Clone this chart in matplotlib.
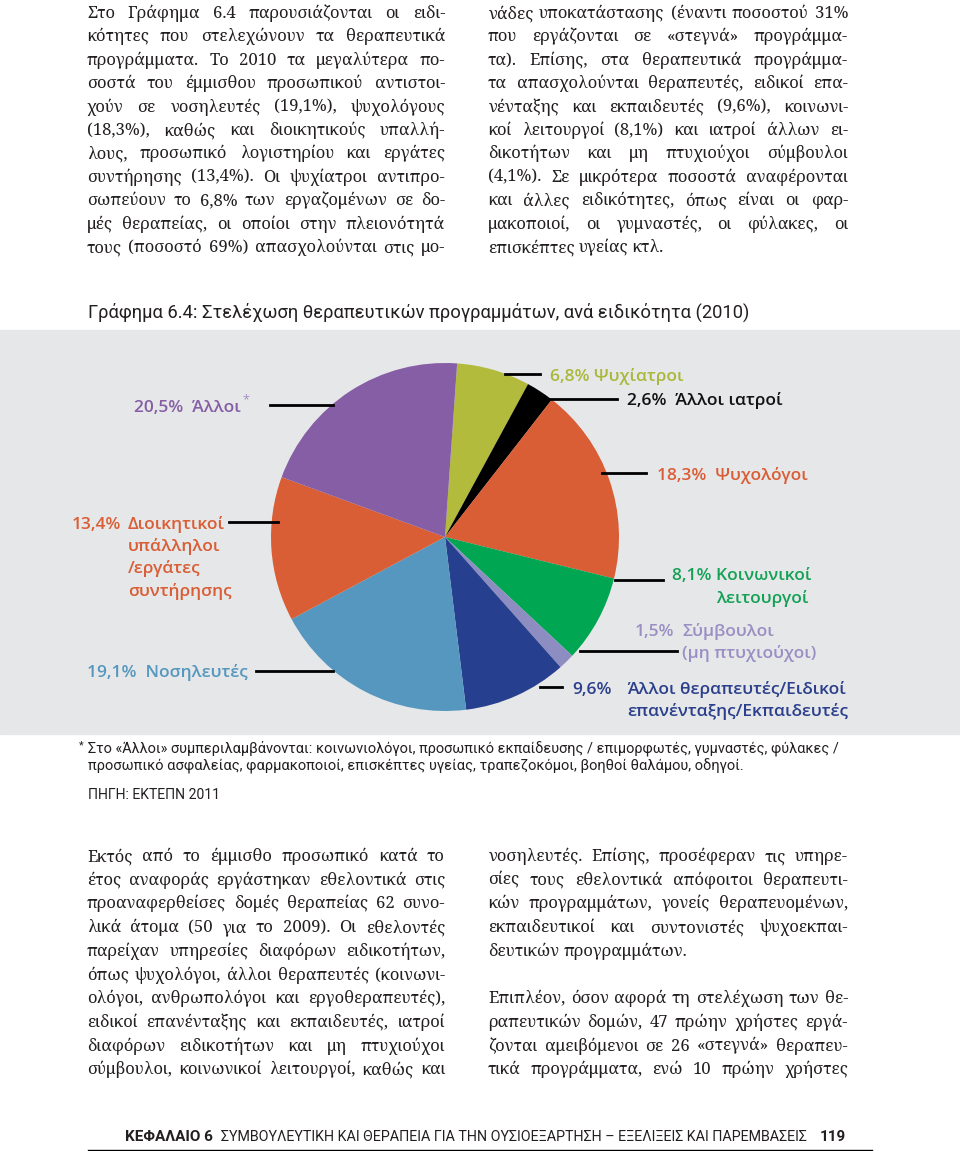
import matplotlib
matplotlib.use('Agg')
import matplotlib.pyplot as plt
from matplotlib import font_manager
from matplotlib.patches import Rectangle
from matplotlib.lines import Line2D

W, H = 960, 1151

# ---- chart data (Γράφημα 6.4) ----
categories = ['Ψυχίατροι', 'Άλλοι ιατροί', 'Ψυχολόγοι', 'Κοινωνικοί λειτουργοί',
              'Σύμβουλοι (μη πτυχιούχοι)',
              'Άλλοι θεραπευτές/Ειδικοί επανένταξης/Εκπαιδευτές',
              'Νοσηλευτές', 'Διοικητικοί υπάλληλοι/εργάτες συντήρησης', 'Άλλοι']
shares = [6.8, 2.6, 18.3, 8.1, 1.5, 9.6, 19.1, 13.4, 20.5]
slice_colors = ['#b2bb3c', '#000000', '#d95d35', '#00a651', '#8d8dc2',
                '#263f8f', '#5597be', '#d95d35', '#855ea6']
text_colors = ['#aab83a', '#111111', '#d95d35', '#14a155', '#9a8ec4',
               '#2b3f8c', '#5597be', '#d95d35', '#855ea6']
label_lines = [['Ψυχίατροι'], ['Άλλοι ιατροί'], ['Ψυχολόγοι'],
               ['Κοινωνικοί', 'λειτουργοί'], ['Σύμβουλοι', '(μη πτυχιούχοι)'],
               ['Άλλοι θεραπευτές/Ειδικοί', 'επανένταξης/Εκπαιδευτές'],
               ['Νοσηλευτές'], ['Διοικητικοί', 'υπάλληλοι', '/εργάτες', 'συντήρησης'],
               ['Άλλοι']]

title = 'Γράφημα 6.4: Στελέχωση θεραπευτικών προγραμμάτων, ανά ειδικότητα (2010)'
note1 = 'Στο «Άλλοι» συμπεριλαμβάνονται: κοινωνιολόγοι, προσωπικό εκπαίδευσης / επιμορφωτές, γυμναστές, φύλακες /'
note2 = 'προσωπικό ασφαλείας, φαρμακοποιοί, επισκέπτες υγείας, τραπεζοκόμοι, βοηθοί θαλάμου, οδηγοί.'
source = 'ΠΗΓΗ: ΕΚΤΕΠΝ 2011'

top_left = [
    'Στο Γράφημα 6.4 παρουσιάζονται οι ειδι-',
    'κότητες που στελεχώνουν τα θεραπευτικά',
    'προγράμματα. Το 2010 τα μεγαλύτερα πο-',
    'σοστά του έμμισθου προσωπικού αντιστοι-',
    'χούν σε νοσηλευτές (19,1%), ψυχολόγους',
    '(18,3%), καθώς και διοικητικούς υπαλλή-',
    'λους, προσωπικό λογιστηρίου και εργάτες',
    'συντήρησης (13,4%). Οι ψυχίατροι αντιπρο-',
    'σωπεύουν το 6,8% των εργαζομένων σε δο-',
    'μές θεραπείας, οι οποίοι στην πλειονότητά',
    'τους (ποσοστό 69%) απασχολούνται στις μο-',
]
top_right = [
    'νάδες υποκατάστασης (έναντι ποσοστού 31%',
    'που εργάζονται σε «στεγνά» προγράμμα-',
    'τα). Επίσης, στα θεραπευτικά προγράμμα-',
    'τα απασχολούνται θεραπευτές, ειδικοί επα-',
    'νένταξης και εκπαιδευτές (9,6%), κοινωνι-',
    'κοί λειτουργοί (8,1%) και ιατροί άλλων ει-',
    'δικοτήτων και μη πτυχιούχοι σύμβουλοι',
    '(4,1%). Σε μικρότερα ποσοστά αναφέρονται',
    'και άλλες ειδικότητες, όπως είναι οι φαρ-',
    'μακοποιοί, οι γυμναστές, οι φύλακες, οι',
    'επισκέπτες υγείας κτλ.',
]
bottom_left = [
    'Εκτός από το έμμισθο προσωπικό κατά το',
    'έτος αναφοράς εργάστηκαν εθελοντικά στις',
    'προαναφερθείσες δομές θεραπείας 62 συνο-',
    'λικά άτομα (50 για το 2009). Οι εθελοντές',
    'παρείχαν υπηρεσίες διαφόρων ειδικοτήτων,',
    'όπως ψυχολόγοι, άλλοι θεραπευτές (κοινωνι-',
    'ολόγοι, ανθρωπολόγοι και εργοθεραπευτές),',
    'ειδικοί επανένταξης και εκπαιδευτές, ιατροί',
    'διαφόρων ειδικοτήτων και μη πτυχιούχοι',
    'σύμβουλοι, κοινωνικοί λειτουργοί, καθώς και',
]
bottom_right = [
    'νοσηλευτές. Επίσης, προσέφεραν τις υπηρε-',
    'σίες τους εθελοντικά απόφοιτοι θεραπευτι-',
    'κών προγραμμάτων, γονείς θεραπευομένων,',
    'εκπαιδευτικοί και συντονιστές ψυχοεκπαι-',
    'δευτικών προγραμμάτων.',
    '',
    'Επιπλέον, όσον αφορά τη στελέχωση των θε-',
    'ραπευτικών δομών, 47 πρώην χρήστες εργά-',
    'ζονται αμειβόμενοι σε 26 «στεγνά» θεραπευ-',
    'τικά προγράμματα, ενώ 10 πρώην χρήστες',
]
paragraph_ends = {'επισκέπτες υγείας κτλ.', 'δευτικών προγραμμάτων.'}

footer_bold = 'ΚΕΦΑΛΑΙΟ 6'
footer_mid = 'ΣΥΜΒΟΥΛΕΥΤΙΚΗ ΚΑΙ ΘΕΡΑΠΕΙΑ ΓΙΑ ΤΗΝ ΟΥΣΙΟΕΞΑΡΤΗΣΗ – ΕΞΕΛΙΞΕΙΣ ΚΑΙ ΠΑΡΕΜΒΑΣΕΙΣ'
footer_page = '119'

# ---- fonts ----
installed = {f.name for f in font_manager.fontManager.ttflist}
narrow = ['Roboto', 'DejaVu Sans'] if 'Roboto' in installed else ['DejaVu Sans']
serif = 'Noto Serif' if 'Noto Serif' in installed else 'DejaVu Serif'
label_font = ['Open Sans', 'DejaVu Sans']
ink = '#231f20'

fig = plt.figure(figsize=(W / 100, H / 100), dpi=100)
renderer = fig.canvas.get_renderer()


def put(x, y, s, **kw):
    kw.setdefault('va', 'baseline')
    return fig.text(x / W, 1 - y / H, s, **kw)


def width_of(t):
    return t.get_window_extent(renderer).width


def fit(x, y, s, target, size, **kw):
    t = put(x, y, s, fontsize=size, **kw)
    t.set_fontsize(size * target / width_of(t))
    return t


def justify(x0, x1, y, line, size, last=False):
    words = line.split()
    objs = [put(x0, y, w, fontsize=size, family=serif, color=ink) for w in words]
    widths = [width_of(o) for o in objs]
    space = size * 100 / 72 * 0.25
    natural = sum(widths) + space * (len(words) - 1)
    if natural > x1 - x0:
        f = (x1 - x0) / natural
        size *= f
        for o in objs:
            o.set_fontsize(size)
        widths = [w * f for w in widths]
        space *= f
    if last or len(words) < 2:
        gap = space
    else:
        gap = (x1 - x0 - sum(widths)) / (len(words) - 1)
    x = x0
    for o, w in zip(objs, widths):
        o.set_x(x / W)
        x += w + gap


def column(lines, x0, x1, y0, step, size=12):
    for i, line in enumerate(lines):
        if line:
            justify(x0, x1, y0 + i * step, line, size, line in paragraph_ends)


# ---- body text ----
column(top_left, 87, 445, 18, 23.4)
column(top_right, 488, 848, 18, 23.4)
column(bottom_left, 87, 445, 861, 23.7)
column(bottom_right, 488, 848, 861, 23.7)

# ---- chart block ----
fit(88, 318, title, 660, 15, family=narrow, color=ink)
fig.add_artist(Rectangle((0, 1 - 734 / H), 1, (734 - 330) / H,
                         transform=fig.transFigure, color='#e6e7e8', zorder=-5))

cx, cy, r = 445, 537, 174
ax = fig.add_axes([(cx - r) / W, 1 - (cy + r) / H, 2 * r / W, 2 * r / H])
ax.pie(shares, colors=slice_colors, startangle=86, counterclock=False,
       wedgeprops=dict(linewidth=0))
ax.set_xlim(-1, 1)
ax.set_ylim(-1, 1)
ax.axis('off')

# leader lines: (y, x_from, x_to) in page pixels, same order as categories
leaders = [(374, 505, 540), (399, 547, 617), (473, 602, 646), (580, 615, 663),
           (651, 580, 677), (687, 540, 562), (671, 256, 333), (522, 229, 278),
           (405, 270, 333)]
for y, xa, xb in leaders:
    fig.add_artist(Line2D([xa / W, xb / W], [1 - y / H] * 2, transform=fig.transFigure,
                          color='black', lw=2.0, zorder=5))

# label anchors: (pct_x, pct_ha, text_x, first_baseline, line_step, gap)
anchors = [(550, 'left', None, 381, 0, ' '),
           (627, 'left', None, 405, 0, '  '),
           (657, 'left', None, 480, 0, '  '),
           (811, 'right', None, 580, 22.5, ' '),
           (635, 'left', 682, 636, 22.5, ''),
           (572, 'left', 627, 694, 22.5, ''),
           (248, 'right', None, 677, 0, '  '),
           (72, 'left', 128, 529, 22.2, ''),
           (241, 'right', None, 412, 0, '  ')]
lab = dict(family=label_font, fontsize=12.5, fontweight='semibold')
for v, lines, col, (px_, pha, tx, y0, step, sep) in zip(shares, label_lines, text_colors, anchors):
    pct = f'{v:.1f}'.replace('.', ',') + '%'
    if tx is None:
        put(px_, y0, pct + sep + lines[0], ha=pha, color=col, **lab)
        for j, s in enumerate(lines[1:], 1):
            put(px_ - 3, y0 + j * step, s, ha='right', color=col, **lab)
    else:
        put(px_, y0, pct, ha=pha, color=col, **lab)
        for j, s in enumerate(lines):
            put(tx, y0 + j * step, s, ha='left', color=col, **lab)
# asterisk on "Άλλοι"
put(242, 403, '*', ha='left', color='#a58fc4', family=label_font, fontsize=9)

# ---- notes ----
put(79, 748, '*', fontsize=8, family=narrow, color=ink)
fit(88, 752, note1, 747, 10, family=narrow, color=ink)
fit(88, 771, note2, 654, 10, family=narrow, color=ink)
fit(88, 799, source, 132, 10, family=narrow, color=ink)

# ---- running footer ----
fsize = 11
b1 = put(125, 1141, footer_bold, fontsize=fsize, fontweight='bold', family=narrow, color=ink)
b3 = put(846, 1141, footer_page, fontsize=fsize, fontweight='bold', family=narrow,
         color=ink, ha='right')
x_mid = 125 + width_of(b1) + 8
fit(x_mid, 1141, footer_mid, 846 - width_of(b3) - 10 - x_mid, fsize, family=narrow, color=ink)
fig.add_artist(Line2D([88 / W, 872 / W], [1 - 1149.5 / H] * 2, transform=fig.transFigure,
                      color='black', lw=1.0))

fig.savefig('out.png', dpi=100, facecolor='white')
